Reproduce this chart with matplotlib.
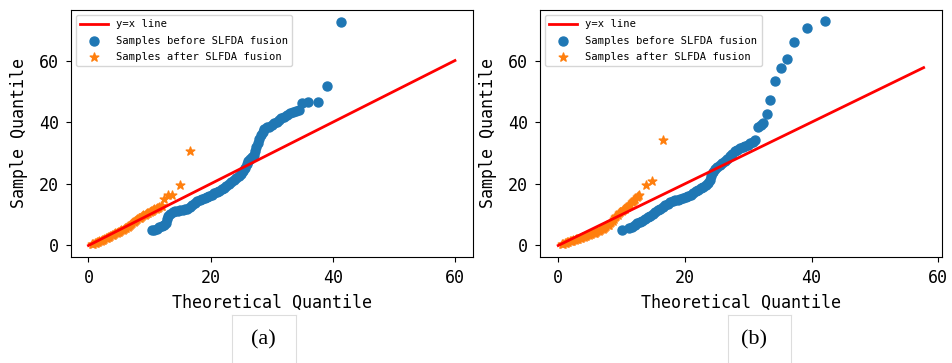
import matplotlib
matplotlib.use("Agg")
import matplotlib.pyplot as plt
from matplotlib.lines import Line2D

# ---------------- data (a) ----------------
before_a_x = [10.4, 10.8, 11.2, 11.6, 12.0, 12.4, 12.7, 12.9, 13.1, 13.4, 13.8, 14.2, 14.6, 15.0,
              15.4, 15.8, 16.2, 16.6, 17.0, 17.4, 17.8, 18.2, 18.6, 19.0, 19.4, 19.8, 20.2, 20.6,
              21.0, 21.4, 21.8, 22.2, 22.6, 23.0, 23.4, 23.8, 24.2, 24.6, 25.0, 25.3, 25.6, 25.9,
              26.2, 26.5, 26.8, 27.1, 27.3, 27.5, 27.7, 27.9, 28.2, 28.5, 28.8, 29.2, 29.6, 30.0,
              30.4, 30.8, 31.2, 31.6, 32.0, 32.5, 33.0, 33.5, 34.0, 34.5, 35.0, 36.0, 37.6, 39.0, 41.4]
before_a_y = [5.0, 5.1, 5.4, 5.9, 6.2, 6.6, 7.4, 8.6, 9.6, 10.3, 10.8, 11.1, 11.3, 11.4,
              11.5, 11.7, 12.0, 12.5, 13.1, 13.7, 14.3, 14.8, 15.2, 15.5, 15.8, 16.1, 16.5, 16.9,
              17.3, 17.7, 18.2, 18.7, 19.3, 19.9, 20.5, 21.1, 21.8, 22.5, 23.3, 24.2, 25.3, 26.4,
              27.3, 28.0, 28.6, 29.5, 30.6, 31.9, 33.2, 34.5, 35.8, 36.9, 37.8, 38.3, 38.6, 39.1,
              39.6, 40.2, 40.7, 41.2, 41.7, 42.3, 42.9, 43.3, 43.6, 43.8, 46.2, 46.4, 46.4, 51.8, 72.6]
after_a_x = [0.6, 0.8, 1.0, 1.2, 1.4, 1.6, 1.8, 2.0, 2.2, 2.4, 2.6, 2.8, 3.0, 3.2, 3.4, 3.6,
             3.8, 4.0, 4.2, 4.4, 4.6, 4.8, 5.0, 5.2, 5.4, 5.6, 5.8, 6.0, 6.2, 6.4, 6.6, 6.8,
             7.0, 7.2, 7.4, 7.6, 7.8, 8.0, 8.2, 8.4, 8.6, 8.8, 9.0, 9.2, 9.4, 9.6, 9.8, 10.0,
             10.2, 10.4, 10.6, 10.8, 11.0, 11.2, 11.4, 11.6, 11.8, 12.0,
             12.4, 13.0, 13.7, 15.0, 16.7]
after_a_y = [0.4, 0.6, 0.7, 0.9, 1.1, 1.2, 1.4, 1.6, 1.8, 1.9, 2.1, 2.3, 2.5, 2.7, 2.9, 3.1,
             3.3, 3.5, 3.7, 3.9, 4.1, 4.3, 4.5, 4.7, 4.9, 5.1, 5.3, 5.6, 5.8, 6.1, 6.4, 6.7,
             7.0, 7.3, 7.6, 7.9, 8.2, 8.5, 8.8, 9.0, 9.3, 9.5, 9.8, 10.0, 10.2, 10.5, 10.7, 10.9,
             11.1, 11.3, 11.5, 11.7, 11.9, 12.1, 12.3, 12.5, 12.7, 12.9,
             15.1, 16.4, 16.4, 19.5, 30.8]
line_a = [0, 60]

# ---------------- data (b) ----------------
before_b_x = [10.1, 11.2, 11.7, 12.1, 12.5, 12.9, 13.3, 13.7, 14.1, 14.5, 14.9, 15.3, 15.7, 16.1,
              16.5, 16.9, 17.3, 17.7, 18.1, 18.5, 18.9, 19.3, 19.7, 20.1, 20.5, 20.9, 21.3, 21.7,
              22.1, 22.5, 22.9, 23.3, 23.7, 24.0, 24.2, 24.4, 24.7, 25.1, 25.5, 25.9, 26.3, 26.7,
              27.1, 27.5, 27.9, 28.3, 28.7, 29.1, 29.5, 29.9, 30.3, 30.7, 31.1, 31.6, 32.0, 32.4,
              32.9, 33.4, 34.2, 35.1, 36.1, 37.2, 39.3, 42.2]
before_b_y = [5.0, 5.6, 6.0, 6.6, 7.2, 7.6, 8.0, 8.5, 9.1, 9.7, 10.3, 10.9, 11.5, 12.0,
              12.6, 13.1, 13.6, 14.0, 14.3, 14.6, 14.9, 15.1, 15.3, 15.6, 16.0, 16.5, 17.0, 17.6,
              18.1, 18.6, 19.1, 19.7, 20.4, 21.3, 22.5, 23.8, 24.9, 25.6, 26.2, 26.8, 27.4, 28.1,
              28.9, 29.8, 30.6, 31.1, 31.5, 31.9, 32.3, 32.7, 33.2, 33.7, 34.2, 38.6, 39.0, 39.6,
              42.5, 47.2, 53.2, 57.5, 60.4, 65.9, 70.5, 72.8]
after_b_x = [0.6, 0.8, 1.0, 1.2, 1.4, 1.6, 1.8, 2.0, 2.2, 2.4, 2.6, 2.8, 3.0, 3.2, 3.4, 3.6,
             3.8, 4.0, 4.2, 4.4, 4.6, 4.8, 5.0, 5.2, 5.4, 5.6, 5.8, 6.0, 6.2, 6.4, 6.6, 6.8,
             7.0, 7.2, 7.4, 7.6, 7.8, 8.0, 8.2, 8.4, 8.6, 8.8, 9.0, 9.2, 9.4, 9.6, 9.8, 10.0,
             10.2, 10.4, 10.6, 10.8, 11.0, 11.2, 11.4, 11.6, 11.8, 12.0, 12.2, 12.4, 12.6, 12.8,
             13.8, 14.8, 16.6]
after_b_y = [0.5, 0.6, 0.7, 0.8, 1.0, 1.1, 1.3, 1.4, 1.5, 1.7, 1.8, 2.0, 2.1, 2.2, 2.4, 2.5,
             2.7, 2.8, 3.0, 3.1, 3.3, 3.4, 3.6, 3.7, 3.9, 4.0, 4.2, 4.4, 4.6, 4.8, 5.0, 5.2,
             5.4, 5.6, 5.9, 6.2, 6.5, 6.8, 7.2, 7.6, 8.1, 8.6, 9.1, 9.6, 10.0, 10.4, 10.8, 11.1,
             11.4, 11.7, 12.0, 12.4, 12.8, 13.2, 13.6, 14.0, 14.4, 14.8, 15.2, 15.6, 16.0, 16.4,
             19.5, 21.0, 34.3]
line_b = [0, 57.7]

labels = ["y=x line", "Samples before SLFDA fusion", "Samples after SLFDA fusion"]
captions = ["(a)", "(b)"]

FONT = "DejaVu Sans Mono"
plt.rcParams["font.family"] = FONT

fig = plt.figure(figsize=(9.52, 3.63), dpi=100)
ax1 = fig.add_axes([0.0743, 0.2928, 0.4222, 0.6797])
ax2 = fig.add_axes([0.5672, 0.2928, 0.4223, 0.6797])

panels = [
    (ax1, before_a_x, before_a_y, after_a_x, after_a_y, line_a),
    (ax2, before_b_x, before_b_y, after_b_x, after_b_y, line_b),
]
for ax, bx, by, ax_, ay, ln in panels:
    ax.plot(ln, ln, color="red", lw=2, label=labels[0], zorder=3)
    ax.scatter(bx, by, s=42, color="#1f77b4", label=labels[1], zorder=2)
    ax.scatter(ax_, ay, s=42, marker="*", color="#ff7f0e", label=labels[2], zorder=2)
    ax.set_xticks([0, 20, 40, 60])
    ax.set_yticks([0, 20, 40, 60])
    ax.tick_params(labelsize=12, pad=5)
    ax.set_xlabel("Theoretical Quantile", fontsize=12, labelpad=5)
    ax.set_ylabel("Sample Quantile", fontsize=12, labelpad=8)
    ax.set_ylim(-3.64, 76.4)
    ax.legend(loc="upper left", fontsize=7.6, handlelength=2.6, borderaxespad=0.5,
              labelspacing=0.6, fancybox=True)
ax1.set_xlim(-2.9, 62.9)
ax2.set_xlim(-2.88, 60.6)

fig.text(0.2763, 0.063, captions[0], ha="center", va="center", fontsize=16, family="Liberation Serif")
fig.text(0.7920, 0.063, captions[1], ha="center", va="center", fontsize=16, family="Liberation Serif")

# faint table cell borders around captions (from the source document)
for x0, x1 in [(232 / 952, 296 / 952), (728 / 952, 791 / 952)]:
    y0 = 1 - 315 / 363
    fig.add_artist(Line2D([x0, x1], [y0, y0], color="#dddddd", lw=0.8, transform=fig.transFigure))
    fig.add_artist(Line2D([x0, x0], [0, y0], color="#dddddd", lw=0.8, transform=fig.transFigure))
    fig.add_artist(Line2D([x1, x1], [0, y0], color="#dddddd", lw=0.8, transform=fig.transFigure))

fig.savefig("out.png", dpi=100)
